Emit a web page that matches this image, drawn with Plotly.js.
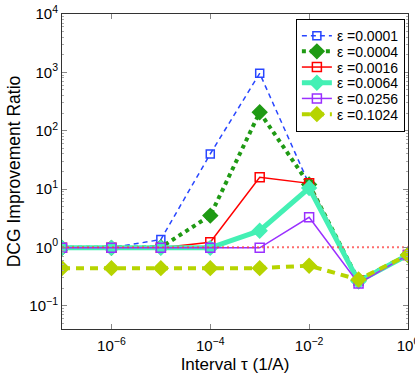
<!DOCTYPE html>
<html>
<head>
<meta charset="utf-8">
<script src="https://cdn.plot.ly/plotly-3.0.1.min.js"></script>
<style>
  html, body { margin: 0; padding: 0; background: #fff; }
  #plot { width: 415px; height: 374px; }
</style>
</head>
<body>
<div id="plot"></div>
<script>
'use strict';

/* ---- data ---- */
const intervals = [1e-7, 1e-6, 1e-5, 1e-4, 1e-3, 1e-2, 1e-1, 1];
const epsLabels = ['ε =0.0001', 'ε =0.0004', 'ε =0.0016', 'ε =0.0064', 'ε =0.0256', 'ε =0.1024'];
const ratioEps0001 = [0.98, 0.98, 1.36, 40, 960, 12, 0.27, 0.74];
const ratioEps0004 = [0.98, 0.98, 1.0, 3.5, 207, 12, 0.27, 0.74];
const ratioEps0016 = [0.98, 0.98, 0.98, 1.22, 15.9, 12.5, 0.27, 0.74];
const ratioEps0064 = [0.98, 0.98, 0.98, 0.98, 1.93, 10.4, 0.26, 0.74];
const ratioEps0256 = [0.98, 0.98, 0.98, 0.98, 0.98, 3.27, 0.24, 0.74];
const ratioEps1024 = [0.44, 0.44, 0.44, 0.44, 0.44, 0.485, 0.28, 0.74];
const refRatio = 1;

const xTickVals = [1e-6, 1e-4, 1e-2, 1];
const xTickText = ['10<sup>−6</sup>', '10<sup>−4</sup>', '10<sup>−2</sup>', '10<sup>0</sup>'];
const yTickVals = [0.1, 1, 10, 100, 1000, 10000];
const yTickText = ['10<sup>−1</sup>', '10<sup>0</sup>', '10<sup>1</sup>', '10<sup>2</sup>', '10<sup>3</sup>', '10<sup>4</sup>'];

/* ---- styles ---- */
const styles = [
  { color: '#2846ff', width: 1.5, dash: '5px,4px', symbol: 'square-open', size: 8 },
  { color: '#1f9a14', width: 4, dash: 'dot', symbol: 'diamond', size: 11 },
  { color: '#ff0000', width: 1.5, dash: 'solid', symbol: 'square-open', size: 9 },
  { color: '#44f0b4', width: 5, dash: 'solid', symbol: 'diamond', size: 11 },
  { color: '#9a30ff', width: 1.5, dash: 'solid', symbol: 'square-open', size: 9 },
  { color: '#b6d400', width: 4, dash: '8px,6px', symbol: 'diamond', size: 11 },
];
const series = [ratioEps0001, ratioEps0004, ratioEps0016, ratioEps0064, ratioEps0256, ratioEps1024];

const traces = series.map((ys, i) => {
  const s = styles[i];
  return {
    type: 'scatter', mode: 'lines+markers', x: intervals, y: ys, name: epsLabels[i],
    line: { color: s.color, width: s.width, dash: s.dash },
    marker: { symbol: s.symbol, size: s.size, color: s.color, line: { color: s.color, width: 1.5 } },
  };
});
traces.push({
  type: 'scatter', mode: 'lines', showlegend: false, hoverinfo: 'skip',
  x: [intervals[0], intervals[intervals.length - 1]], y: [refRatio, refRatio],
  line: { color: 'rgba(255,60,60,0.75)', width: 2, dash: '2px,3px' },
});

// minor ticks 2..9 per decade on the y axis
const yMinor = [];
for (let e = -2; e <= 3; e++) for (let k = 2; k <= 9; k++) {
  const v = k * Math.pow(10, e);
  if (v > Math.pow(10, -1.4) && v < 1e4) yMinor.push(v);
}

const font = { family: 'Liberation Sans, Arial, Helvetica, sans-serif', color: '#000' };
const axisBase = {
  type: 'log', tickmode: 'array', ticks: 'inside', ticklen: 5, tickwidth: 1, tickcolor: '#888',
  showline: true, linecolor: '#333', linewidth: 1, mirror: 'ticks',
  showgrid: false, zeroline: false, tickfont: { size: 15 }, ticklabeloverflow: 'allow',
};

const layout = {
  width: 415, height: 374,
  margin: { l: 62, r: 7, t: 14, b: 45 },
  paper_bgcolor: '#fff', plot_bgcolor: '#fff',
  font, showlegend: true,
  xaxis: Object.assign({}, axisBase, {
    range: [-7, 0.0005], tickvals: xTickVals, ticktext: xTickText, ticklabelstandoff: 3,
    title: { text: 'Interval τ (1/A)', font: { size: 17 }, standoff: 5 },
  }),
  yaxis: Object.assign({}, axisBase, {
    range: [-1.4, 4], tickvals: yTickVals, ticktext: yTickText,
    minor: { tickmode: 'array', tickvals: yMinor, ticks: 'inside', ticklen: 2, tickcolor: '#aaa' },
    title: { text: 'DCG Improvement Ratio', font: { size: 17.5 }, standoff: 4 },
  }),
  legend: {
    x: 0.991, y: 0.984, xanchor: 'right', yanchor: 'top',
    bgcolor: '#fff', bordercolor: '#000', borderwidth: 1,
    font: { size: 14 }, tracegroupgap: 0,
  },
};

// plotly keeps legend rows >= 19px; the reference packs them tighter
function tightenLegend(gd, rowH) {
  const items = Array.from(gd.querySelectorAll('g.legend g.traces'));
  if (items.length < 2) return;
  const pos = el => (el.getAttribute('transform') || '').match(/-?\d*\.?\d+(?:e-?\d+)?/g).map(Number);
  const y0 = pos(items[0])[1];
  const shift = pos(items[items.length - 1])[1] - (y0 + (items.length - 1) * rowH);
  if (Math.abs(shift) < 0.5) return;
  items.forEach((el, i) => el.setAttribute('transform', `translate(${pos(el)[0]},${y0 + i * rowH})`));
  const bg = gd.querySelector('g.legend rect.bg');
  if (bg) bg.setAttribute('height', +bg.getAttribute('height') - shift);
}

const gd = document.getElementById('plot');
Plotly.newPlot(gd, traces, layout, { staticPlot: true, displayModeBar: false })
  .then(() => {
    tightenLegend(gd, 15.7);
    setTimeout(() => tightenLegend(gd, 15.7), 50);
  });
</script>
</body>
</html>
